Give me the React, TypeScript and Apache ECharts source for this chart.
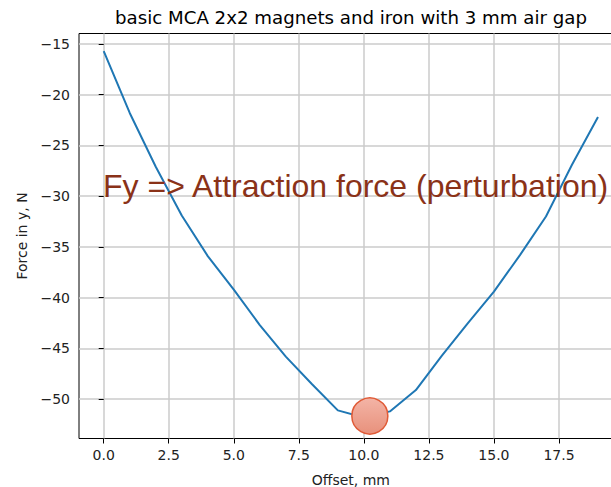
import React, { useEffect, useRef } from "react";
import * as echarts from "echarts";

const offsets = [0, 1, 2, 3, 4, 5, 6, 7, 8, 9, 10, 11, 12, 13, 14, 15, 16, 17, 18, 19];
const forces = [-15.7, -21.8, -27.1, -31.9, -35.9, -39.2, -42.7, -45.8, -48.5, -51.1, -51.8, -51.2, -49.1, -45.7, -42.5, -39.4, -35.8, -32.0, -26.9, -22.2];
const highlight = [[10.23, -51.65]];
const xTicks = [0, 2.5, 5, 7.5, 10, 12.5, 15, 17.5];
const yTicks = [-50, -45, -40, -35, -30, -25, -20, -15];
const titleText = "basic MCA 2x2 magnets and iron with 3 mm air gap";
const annotationText = "Fy => Attraction force (perturbation)";
const xName = "Offset, mm";
const yName = "Force in y, N";

export default function App() {
  const ref = useRef<HTMLDivElement>(null);
  useEffect(() => {
    if (!ref.current) return;
    const chart = echarts.init(ref.current, null, { renderer: "svg" });
    const font = "DejaVu Sans";
    chart.setOption({
      animation: false,
      backgroundColor: "#ffffff",
      title: {
        text: titleText,
        left: 346,
        top: 3,
        textAlign: "center",
        textStyle: { fontFamily: font, fontSize: 18.2, fontWeight: "normal", color: "#000" },
      },
      grid: {
        left: 79,
        top: 33.5,
        right: -11.7,
        bottom: 48.5,
        outerBoundsMode: "none",
        containLabel: false,
        show: true,
        borderColor: "#000",
        borderWidth: 1,
        backgroundColor: "transparent",
      },
      xAxis: {
        type: "value",
        min: -0.95,
        max: 19.95,
        name: xName,
        nameLocation: "middle",
        nameGap: 34,
        nameTextStyle: { fontFamily: font, fontSize: 14, color: "#222" },
        axisLine: { show: false },
        axisTick: { show: true, length: 5, lineStyle: { color: "#000", width: 1 }, customValues: xTicks },
        axisLabel: {
          customValues: xTicks,
          fontFamily: font,
          fontSize: 14,
          color: "#222",
          margin: 9,
          formatter: (v: number) => v.toFixed(1),
        },
        splitLine: { show: true, lineStyle: { color: "#cbcbcb", width: 1.5 } },
      },
      yAxis: {
        type: "value",
        min: -53.87,
        max: -13.97,
        name: yName,
        nameLocation: "middle",
        nameGap: 50,
        nameTextStyle: { fontFamily: font, fontSize: 14, color: "#222" },
        axisLine: { show: false },
        axisTick: { show: true, length: 5, lineStyle: { color: "#000", width: 1 }, customValues: yTicks },
        axisLabel: {
          customValues: yTicks,
          fontFamily: font,
          fontSize: 14,
          color: "#222",
          margin: 9,
          formatter: (v: number) => String(v).replace("-", "\u2212"),
        },
        splitLine: { show: true, lineStyle: { color: "#cbcbcb", width: 1.5 } },
      },
      series: [
        {
          type: "line",
          data: offsets.map((x, i) => [x, forces[i]]),
          showSymbol: false,
          lineStyle: { color: "#1f77b4", width: 2 },
          z: 3,
        },
        {
          type: "scatter",
          data: highlight,
          symbolSize: 36,
          itemStyle: {
            color: new echarts.graphic.LinearGradient(0, 0, 0, 1, [
              { offset: 0, color: "#f3b4a6" },
              { offset: 1, color: "#e8917c" },
            ]),
            borderColor: "#e05a36",
            borderWidth: 1.5,
            opacity: 1,
          },
          z: 5,
        },
      ],
      graphic: [
        {
          type: "text",
          left: 103,
          top: 169.5,
          z: 10,
          style: {
            text: annotationText,
            font: "32px 'Liberation Sans', Arial, sans-serif",
            fill: "#8a3218",
          },
        },
      ],
    });
    return () => chart.dispose();
  }, []);
  return <div ref={ref} style={{ width: 611, height: 487, position: "absolute", left: 0, top: 0 }} />;
}
